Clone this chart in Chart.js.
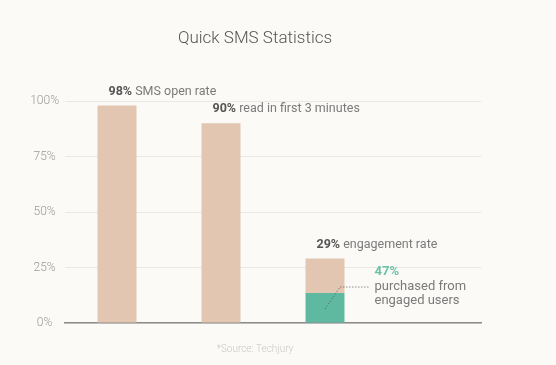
<!DOCTYPE html>
<html>
<head>
<meta charset="utf-8">
<script src="https://cdn.jsdelivr.net/npm/chart.js@4"></script>
<style>
  html, body { margin: 0; padding: 0; background: #fcfaf7; }
  #wrap { width: 556px; height: 365px; }
</style>
</head>
<body>
<div id="wrap"><canvas id="smsChart"></canvas></div>
<script>
// categories (4th slot is empty, it holds the note on the right)
const categories = ['SMS open rate', 'read in first 3 minutes', 'engagement rate', ''];
const purchasedValues = [0, 0, 13.5, null];   // green part of the 3rd bar
const restValues = [98, 90, 15.5, null];      // beige part, stacked on top
const topBold = ['98%', '90%', '29%'];
const topText = ['SMS open rate', 'read in first 3 minutes', 'engagement rate'];
const noteBold = '47%';
const noteLines = ['purchased from', 'engaged users'];
const yTicks = [0, 25, 50, 75, 100];

const FONT = 'Roboto, "Noto Sans", sans-serif';

const barNotes = {
    id: 'barNotes',
    afterDatasetsDraw(chart) {
        const ctx = chart.ctx;
        const topBars = chart.getDatasetMeta(1).data;
        ctx.save();
        ctx.textBaseline = 'middle';
        ctx.textAlign = 'left';
        topText.forEach((txt, i) => {
            const bar = topBars[i];
            const x = bar.x - bar.width / 2 + 11;
            const y = bar.y - 14;
            ctx.font = 'bold 12.5px ' + FONT;
            ctx.fillStyle = '#555555';
            ctx.fillText(topBold[i], x, y);
            const w = ctx.measureText(topBold[i] + ' ').width;
            ctx.font = '12.5px ' + FONT;
            ctx.fillStyle = '#7a7a7a';
            ctx.fillText(txt, x + w, y);
        });

        // note for the green part
        const g = chart.getDatasetMeta(0).data[2];
        const nx = g.x + g.width / 2 + 30;
        const ny = g.y;
        ctx.font = 'bold 13px ' + FONT;
        ctx.fillStyle = '#6cc2a9';
        ctx.fillText(noteBold, nx, ny - 21);
        ctx.font = '13px ' + FONT;
        ctx.fillStyle = '#7a7a7a';
        ctx.fillText(noteLines[0], nx, ny - 6);
        ctx.fillText(noteLines[1], nx, ny + 8);

        // dotted leader
        ctx.strokeStyle = '#555555';
        ctx.lineWidth = 1;
        ctx.setLineDash([1, 2]);
        ctx.beginPath();
        ctx.moveTo(g.x, ny + 16);
        ctx.lineTo(g.x + 15, ny - 6);
        ctx.lineTo(nx - 6, ny - 6);
        ctx.stroke();
        ctx.restore();
    }
};

new Chart(document.getElementById('smsChart'), {
    type: 'bar',
    data: {
        labels: categories,
        datasets: [
            {
                label: 'purchased from engaged users',
                data: purchasedValues,
                backgroundColor: '#5fb9a0',
                categoryPercentage: 1,
                barPercentage: 0.375
            },
            {
                label: 'rate',
                data: restValues,
                backgroundColor: '#e2c6b1',
                categoryPercentage: 1,
                barPercentage: 0.375
            }
        ]
    },
    options: {
        responsive: true,
        maintainAspectRatio: false,
        animation: false,
        layout: { padding: { left: 29, right: 75, top: 0, bottom: 4 } },
        plugins: {
            legend: { display: false },
            tooltip: { enabled: false },
            title: {
                display: true,
                text: 'Quick SMS Statistics',
                color: '#555555',
                font: { family: FONT, size: 17, weight: '300' },
                padding: { top: 29, bottom: 51.6 }
            },
            subtitle: {
                display: true,
                position: 'bottom',
                text: '*Source: Techjury',
                color: '#c9c9c9',
                font: { family: FONT, size: 10, weight: '300' },
                padding: { top: 20, bottom: 6 }
            }
        },
        scales: {
            x: {
                stacked: true,
                grid: { display: false, drawTicks: false },
                ticks: { display: false },
                border: { display: true, color: '#8c8c8c', width: 1.5 },
                afterFit(scale) { scale.height = 0; }
            },
            y: {
                stacked: true,
                min: 0,
                max: 100,
                afterBuildTicks(scale) { scale.ticks = yTicks.map(v => ({ value: v })); },
                afterFit(scale) { scale.width = 36; },
                grid: { color: '#ebe8e4', lineWidth: 1, drawTicks: false },
                border: { display: false },
                ticks: {
                    crossAlign: 'center',
                    padding: 6,
                    color: '#9a9a9a',
                    font: { family: FONT, size: 12, weight: '300' },
                    callback: v => v + '%'
                }
            }
        }
    },
    plugins: [barNotes]
});
</script>
</body>
</html>
